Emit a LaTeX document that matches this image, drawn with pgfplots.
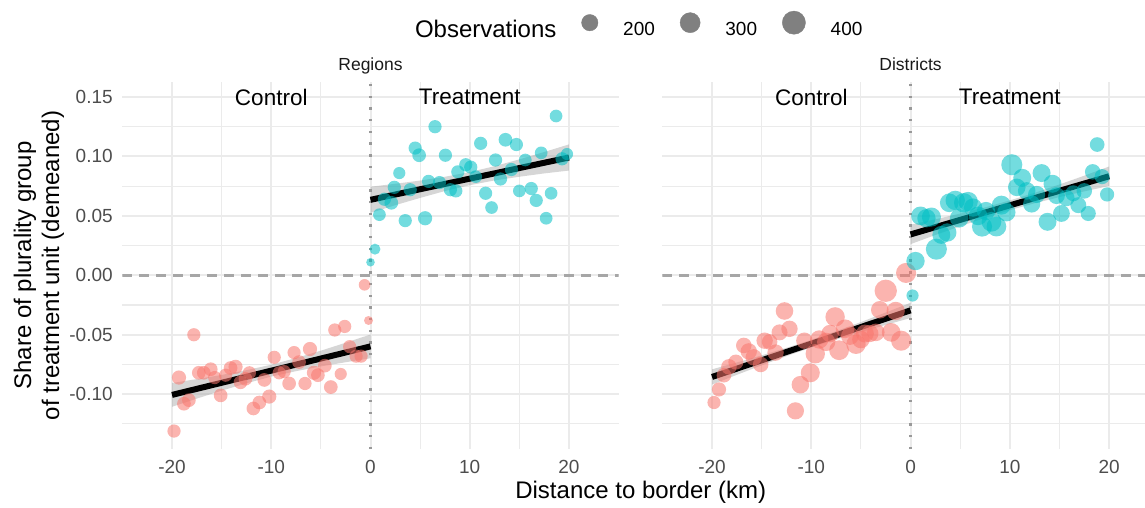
\documentclass[border=0pt]{standalone}
\usepackage{fontspec}
\setmainfont{Liberation Sans}
\usepackage{pgfplots}
\usepackage{pgfplotstable}
\pgfplotsset{compat=1.18}

\definecolor{ggred}{HTML}{F8766D}
\definecolor{ggteal}{HTML}{00BFC4}
\definecolor{gridgrey}{HTML}{EBEBEB}
\definecolor{ticktext}{HTML}{4D4D4D}
\definecolor{striptext}{HTML}{1A1A1A}
\definecolor{zeroline}{HTML}{A6A6A6}
\definecolor{borderline}{HTML}{999999}
\definecolor{bandgrey}{HTML}{999999}
\definecolor{keygrey}{HTML}{808080}

% binned means: distance to border (km), share (demeaned), observations
\pgfplotstableread{
x y n
-19.8 -0.131 130
-19.3 -0.086 150
-18.8 -0.108 140
-18.3 -0.105 140
-17.8 -0.050 130
-17.3 -0.082 140
-16.8 -0.082 140
-16.1 -0.079 140
-15.7 -0.086 130
-15.1 -0.101 140
-14.6 -0.084 130
-14.1 -0.078 140
-13.6 -0.077 150
-13.1 -0.090 140
-12.6 -0.087 140
-12.2 -0.082 130
-11.8 -0.112 140
-11.2 -0.107 140
-10.7 -0.088 140
-10.2 -0.102 150
-9.7 -0.069 130
-9.2 -0.082 130
-8.7 -0.081 130
-8.2 -0.091 140
-7.7 -0.065 130
-7.2 -0.073 140
-6.6 -0.091 130
-6.1 -0.062 150
-5.7 -0.082 150
-5.3 -0.084 140
-4.6 -0.076 140
-4.0 -0.094 140
-3.6 -0.046 130
-3.0 -0.083 110
-2.6 -0.043 130
-2.1 -0.060 130
-1.45 -0.068 130
-0.95 -0.068 130
-0.6 -0.008 100
-0.2 -0.038 60
}\regctrl

\pgfplotstableread{
x y n
0.0 0.011 55
0.45 0.022 90
0.9 0.051 120
1.4 0.064 130
2.1 0.061 140
2.4 0.074 130
2.9 0.086 110
3.5 0.046 130
4.0 0.072 130
4.5 0.107 130
4.9 0.101 140
5.5 0.048 150
5.85 0.079 130
6.5 0.125 130
6.95 0.078 130
7.55 0.101 130
8.05 0.072 130
8.6 0.071 130
8.8 0.087 130
9.6 0.093 130
10.1 0.091 130
10.6 0.083 120
11.1 0.111 130
11.6 0.069 130
12.2 0.057 120
12.6 0.097 130
13.1 0.081 130
13.6 0.114 140
14.2 0.089 130
14.7 0.110 130
15.0 0.071 120
15.6 0.097 120
16.2 0.073 130
16.7 0.063 130
17.2 0.103 120
17.7 0.048 120
18.2 0.069 120
18.7 0.134 120
19.3 0.098 130
19.8 0.102 110
}\regtreat

\pgfplotstableread{
x y n
-19.8 -0.107 130
-19.3 -0.096 150
-18.8 -0.084 160
-18.3 -0.077 180
-17.6 -0.073 170
-16.8 -0.059 180
-16.3 -0.064 200
-15.8 -0.069 200
-15.1 -0.075 180
-14.7 -0.055 200
-14.2 -0.056 180
-13.6 -0.065 200
-13.2 -0.048 190
-12.7 -0.030 230
-12.2 -0.045 200
-11.6 -0.114 220
-11.1 -0.092 230
-10.7 -0.055 200
-10.1 -0.082 270
-9.6 -0.066 280
-9.2 -0.054 250
-8.5 -0.056 250
-8.1 -0.049 230
-7.6 -0.035 280
-7.2 -0.063 290
-6.6 -0.045 260
-6.1 -0.051 240
-5.5 -0.058 280
-5.0 -0.054 230
-4.6 -0.049 240
-4.1 -0.049 220
-3.5 -0.048 230
-3.1 -0.029 230
-2.5 -0.013 370
-1.95 -0.048 260
-1.5 -0.030 250
-0.95 -0.055 300
-0.45 0.002 300
}\distctrl

\pgfplotstableread{
x y n
0.2 -0.017 110
0.5 0.012 250
1.0 0.050 260
1.6 0.048 250
2.1 0.049 270
2.6 0.022 330
3.1 0.034 240
3.7 0.036 250
3.9 0.061 260
4.5 0.063 280
4.9 0.048 260
5.35 0.061 280
5.8 0.062 280
6.3 0.057 250
6.8 0.050 260
7.2 0.041 300
7.6 0.054 250
8.15 0.045 290
8.65 0.041 290
9.15 0.059 270
9.65 0.053 250
10.2 0.093 330
10.7 0.074 230
11.25 0.082 240
11.7 0.071 230
12.2 0.060 220
12.7 0.068 220
13.2 0.086 240
13.8 0.045 240
14.3 0.077 240
14.7 0.067 210
15.2 0.052 210
15.7 0.065 200
16.4 0.069 190
16.9 0.059 190
17.5 0.071 180
17.9 0.052 170
18.35 0.087 180
18.8 0.110 160
19.3 0.083 170
19.8 0.068 150
}\disttreat

\tikzset{side/.style={font=\fontsize{22.5}{26}\selectfont}}

\pgfplotsset{
  facet/.style={
    scale only axis, height=367pt,
    xmin=-25, ymin=-0.1461, ymax=0.1626,
    axis line style={draw=none},
    tick style={draw=none},
    major tick length=0pt, minor tick length=0pt,
    xtick={-20,-10,0,10,20}, xticklabels={-20,-10,0,10,20},
    ytick={-0.1,-0.05,0,0.05,0.1,0.15},
    minor xtick={-15,-5,5,15},
    minor ytick={-0.125,-0.075,-0.025,0.025,0.075,0.125},
    grid=both,
    major grid style={draw=gridgrey, line width=2pt},
    minor grid style={draw=gridgrey, line width=1.1pt},
    tick label style={font=\fontsize{19}{22}\selectfont, text=ticktext, inner sep=0pt},
    xticklabel style={anchor=north, yshift=-11pt},
    yticklabel style={anchor=east, xshift=-9.5pt},
    every axis title/.style={at={(0.5,1)}, anchor=base, yshift=11pt,
      font=\fontsize{17.5}{20}\selectfont, text=striptext},
  },
  bubbles/.style={only marks, scatter, mark=*,
    scatter/use mapped color={draw=#1, fill=#1, draw opacity=0, fill opacity=0.55},
    visualization depends on={\thisrow{n} \as \nobs},
    scatter/@pre marker code/.append style={/tikz/mark size={0.58*sqrt(\nobs)}}},
  band/.style={draw=none, fill=bandgrey, fill opacity=0.4},
  fit/.style={black, line width=6pt},
  hzero/.style={zeroline, line width=2.4pt, dash pattern=on 10pt off 7pt},
  vzero/.style={borderline, line width=2.4pt, dash pattern=on 2.4pt off 9.3pt},
}

\begin{document}
\begin{tikzpicture}
\path[use as bounding box] (0pt,0pt) rectangle (1145pt,507pt);

% Regions
\begin{axis}[facet, name=left, at={(122.4pt,58pt)}, anchor=south west,
  width=496.2pt, xmax=25,
  yticklabels={-0.10,-0.05,0.00,0.05,0.10,0.15},
  title={Regions},
  legend columns=-1,
  legend cell align=left,
  legend style={at={(0.5393,1.1553)}, anchor=west, draw=none, fill=none,
    inner sep=0pt, outer sep=0pt, font=\fontsize{19}{22}\selectfont,
    /tikz/column sep=25pt, nodes={inner sep=0pt}},
]
\addlegendimage{empty legend}
\addlegendentry{\fontsize{24}{28}\selectfont Observations}
\addlegendimage{legend image code/.code={\fill[keygrey] (0pt,7pt) circle[radius=8.2pt];}}
\addlegendentry{200}
\addlegendimage{legend image code/.code={\fill[keygrey] (0pt,7pt) circle[radius=10.05pt];}}
\addlegendentry{300}
\addlegendimage{legend image code/.code={\fill[keygrey] (0pt,7pt) circle[radius=11.6pt];}}
\addlegendentry{400}

\addplot[hzero, forget plot] coordinates {(-25,0) (25,0)};
\addplot[vzero, forget plot] coordinates {(0,-0.1461) (0,0.1626)};
\addplot[bubbles=ggred, forget plot] table {\regctrl};
\addplot[bubbles=ggteal, forget plot] table {\regtreat};
\addplot[band, forget plot] coordinates {
  (-20,-0.0906) (-17.5,-0.0873) (-15,-0.0838) (-12.5,-0.0798) (-10,-0.0752)
  (-7.5,-0.0696) (-5,-0.0634) (-2.5,-0.0567) (0,-0.0498)
  (0,-0.0698) (-2.5,-0.0731) (-5,-0.0766) (-7.5,-0.0806) (-10,-0.0852)
  (-12.5,-0.0908) (-15,-0.0970) (-17.5,-0.1037) (-20,-0.1106)};
\addplot[band, forget plot] coordinates {
  (0,0.0745) (2.5,0.0770) (5,0.0797) (7.5,0.0829) (10,0.0868)
  (12.5,0.0918) (15,0.0975) (17.5,0.1037) (20,0.1101)
  (20,0.0881) (17.5,0.0857) (15,0.0829) (12.5,0.0798) (10,0.0758)
  (7.5,0.0709) (5,0.0651) (2.5,0.0590) (0,0.0525)};
\addplot[fit, forget plot] coordinates {(-20,-0.1006) (0,-0.0598)};
\addplot[fit, forget plot] coordinates {(0,0.0635) (20,0.0991)};
\node[side] at (axis cs:-10,0.15) {Control};
\node[side] at (axis cs:10,0.15) {Treatment};
\end{axis}

% Districts
\begin{axis}[facet, name=right, at={(662.4pt,58pt)}, anchor=south west,
  width=482.4pt, xmax=23.6,
  yticklabels={,,,,,},
  title={Districts}, title style={at={(0.5144,1)}},
]
\addplot[hzero] coordinates {(-25,0) (25,0)};
\addplot[vzero] coordinates {(0,-0.1461) (0,0.1626)};
\addplot[bubbles=ggred] table {\distctrl};
\addplot[bubbles=ggteal] table {\disttreat};
\addplot[band] coordinates {
  (-20,-0.0791) (-17.5,-0.0733) (-15,-0.0673) (-12.5,-0.0610) (-10,-0.0543)
  (-7.5,-0.0470) (-5,-0.0393) (-2.5,-0.0313) (0,-0.0231)
  (0,-0.0359) (-2.5,-0.0417) (-5,-0.0477) (-7.5,-0.0540) (-10,-0.0607)
  (-12.5,-0.0680) (-15,-0.0757) (-17.5,-0.0837) (-20,-0.0919)};
\addplot[band] coordinates {
  (0,0.0426) (2.5,0.0471) (5,0.0519) (7.5,0.0571) (10,0.0630)
  (12.5,0.0694) (15,0.0764) (17.5,0.0838) (20,0.0915)
  (20,0.0751) (17.5,0.0706) (15,0.0658) (12.5,0.0606) (10,0.0548)
  (7.5,0.0483) (5,0.0413) (2.5,0.0339) (0,0.0262)};
\addplot[fit] coordinates {(-20,-0.0855) (0,-0.0295)};
\addplot[fit] coordinates {(0,0.0344) (20,0.0833)};
\node[side] at (axis cs:-10,0.15) {Control};
\node[side] at (axis cs:10,0.15) {Treatment};
\end{axis}

\node[rotate=90, align=center, font=\fontsize{24}{28}\selectfont]
  at (39pt,241.5pt) {Share of plurality group\\of treatment unit (demeaned)};
\node[anchor=base, font=\fontsize{24}{28}\selectfont]
  at (640.7pt,9pt) {Distance to border (km)};
\end{tikzpicture}
\end{document}
